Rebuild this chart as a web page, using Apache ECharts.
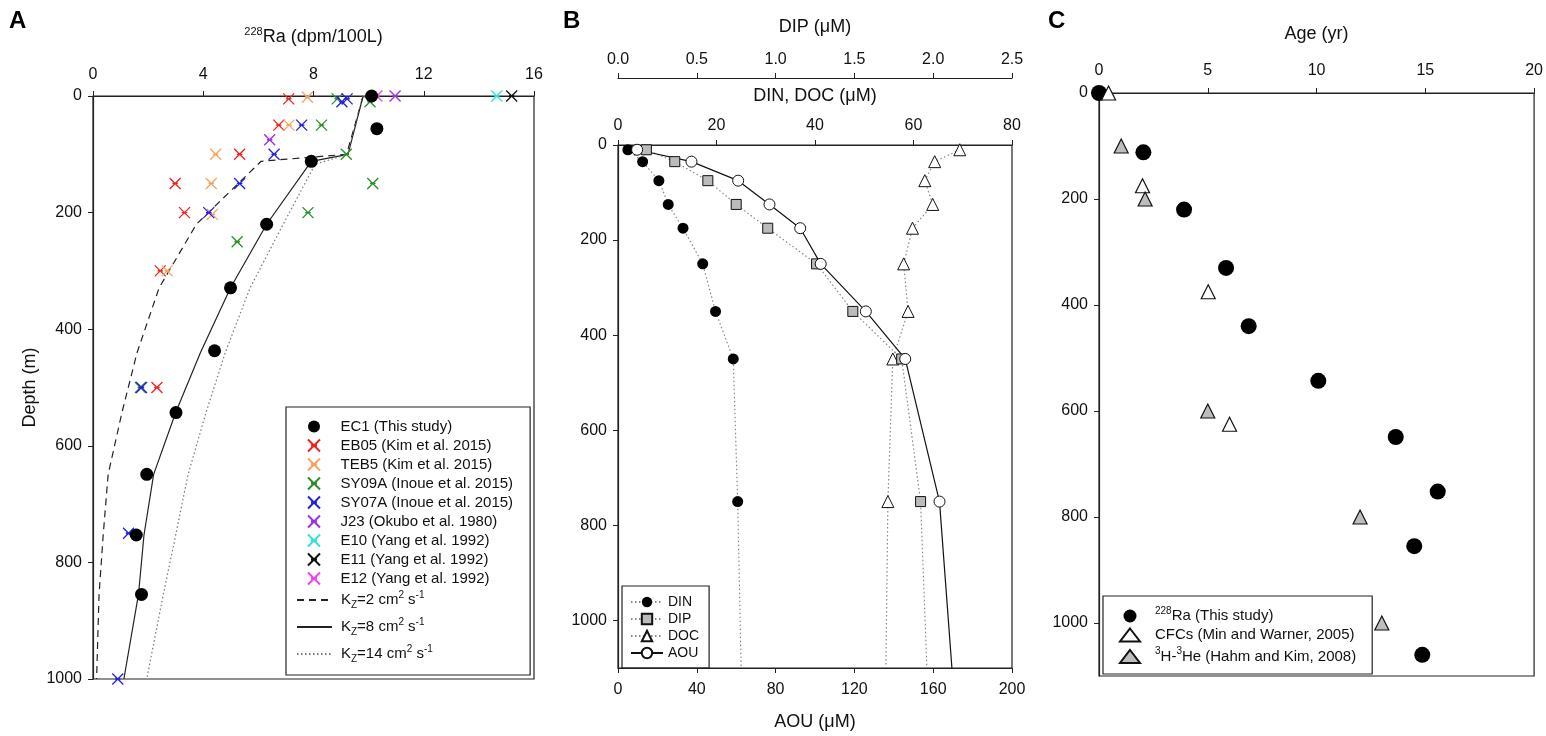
<!DOCTYPE html>
<html>
<head>
<meta charset="utf-8">
<script src="https://cdn.jsdelivr.net/npm/echarts@6/dist/echarts.min.js"></script>
<style>
  html, body { margin: 0; padding: 0; background: #fff; }
  #main { width: 1546px; height: 736px; }
</style>
</head>
<body>
<div id="main"></div>
<script>
// ---- panel A : 228Ra profiles ----
const ec1Ra = [10.11, 10.3, 7.92, 6.30, 4.99, 4.41, 3.01, 1.95, 1.57, 1.76];
const ec1Depth = [0, 56, 112, 220, 329, 437, 543, 649, 753, 855];
const eb05Ra = [7.1, 6.74, 5.32, 2.98, 3.32, 2.44, 2.32];
const eb05Depth = [5, 50, 100, 150, 200, 300, 500];
const teb5Ra = [7.78, 7.11, 4.45, 4.29, 4.33, 2.69];
const teb5Depth = [2, 50, 100, 150, 203, 300];
const sy09aRa = [8.86, 10.05, 8.29, 9.19, 10.15, 7.80, 5.23, 1.72];
const sy09aDepth = [5, 10, 50, 100, 150, 200, 250, 500];
const sy07aRa = [9.22, 9.03, 7.57, 6.57, 5.32, 4.20, 1.76, 1.29, 0.90];
const sy07aDepth = [5, 10, 50, 100, 150, 200, 500, 750, 1000];
const j23Ra = [10.96, 6.41];
const j23Depth = [0, 75];
const e10Ra = [14.65];
const e10Depth = [0];
const e11Ra = [15.19];
const e11Depth = [0];
const e12Ra = [10.3];
const e12Depth = [0];
// model curves
const kz2Ra = [9.8, 9.2, 6.1, 3.75, 2.4, 1.6, 1.05, 0.55, 0.37, 0.22, 0.13];
const kz2Depth = [0, 100, 112, 220, 329, 440, 543, 649, 753, 855, 1000];
const kz8Ra = [9.8, 9.25, 7.92, 6.30, 4.99, 3.9, 3.0, 2.2, 1.85, 1.65, 1.12];
const kz8Depth = [0, 100, 112, 220, 329, 440, 543, 649, 753, 855, 1000];
const kz14Ra = [9.8, 9.25, 8.06, 6.9, 5.7, 4.8, 4.1, 3.45, 3.0, 2.55, 1.95];
const kz14Depth = [0, 100, 117, 220, 329, 440, 543, 649, 753, 855, 1000];

// ---- panel B : nutrients ----
const depthB = [10, 35, 75, 125, 175, 250, 350, 450, 750, 1100];
const din = [2.0, 5.0, 8.3, 10.2, 13.2, 17.2, 19.8, 23.4, 24.3, 25.0];
const dip = [0.18, 0.36, 0.57, 0.75, 0.95, 1.26, 1.49, 1.80, 1.92, 1.96];
const doc = [69.4, 64.3, 62.3, 63.9, 59.8, 58.0, 58.9, 55.8, 54.8, 54.4];
const aou = [9.7, 37.3, 61.0, 76.9, 92.5, 102.9, 125.8, 145.8, 163.2, 169.5];

// ---- panel C : ages ----
const raAge = [0, 2.04, 3.91, 5.84, 6.88, 10.08, 13.64, 15.57, 14.49, 14.86];
const raAgeDepth = [0, 112, 220, 330, 440, 543, 649, 752, 855, 1060];
const cfcAge = [0.44, 2.0, 5.02, 6.0];
const cfcDepth = [0, 175, 375, 625];
const heAge = [1.02, 2.12, 5.0, 12.0, 13.0];
const heDepth = [100, 200, 600, 800, 1000];

const FONT = "'Liberation Sans', Arial, sans-serif";
const AX = '#222';
const CROSS = 'path://M0,0L10,10M10,0L0,10M2.5,5L7.5,5';

function pairs(xs, ys) {
    return xs.map(function (v, i) { return [v, ys[i]]; });
}
// last point of each nutrient profile is only the line end, no marker
function profile(xs) {
    return xs.map(function (v, i) {
        if (i === xs.length - 1) return { value: [v, depthB[i]], symbol: 'none' };
        return [v, depthB[i]];
    });
}
function cross(name, color, xs, ys) {
    return {
        name: name, type: 'scatter', xAxisIndex: 0, yAxisIndex: 0,
        symbol: CROSS, symbolSize: 11, z: 3,
        itemStyle: { color: color, borderColor: color, borderWidth: 1.3, opacity: 1 },
        data: pairs(xs, ys)
    };
}
function modelLine(name, xs, ys, type, color) {
    return {
        name: name, type: 'line', xAxisIndex: 0, yAxisIndex: 0,
        symbol: 'none', z: 2, color: color,
        lineStyle: { color: color, width: 1.2, type: type },
        data: pairs(xs, ys)
    };
}
function plain(v) { return String(v); }

const richText = {
    n: { fontSize: 15, lineHeight: 20, fontFamily: FONT, color: '#111' },
    m: { fontSize: 15, lineHeight: 15, fontFamily: FONT, color: '#111' },
    sup: { fontSize: 10, lineHeight: 10, verticalAlign: 'top', fontFamily: FONT, color: '#111' },
    sub: { fontSize: 10, lineHeight: 10, verticalAlign: 'bottom', fontFamily: FONT, color: '#111' },
    g4: { width: 4, fontSize: 10 },
    g10: { width: 10, fontSize: 10 }
};
const kzLabels = {
    'Kz=2': '{g4| }{n|K}{sub|Z}{n|=2 cm}{sup|2}{n| s}{sup|-1}',
    'Kz=8': '{g4| }{n|K}{sub|Z}{n|=8 cm}{sup|2}{n| s}{sup|-1}',
    'Kz=14': '{g4| }{n|K}{sub|Z}{n|=14 cm}{sup|2}{n| s}{sup|-1}'
};
const ageLabels = {
    'Ra': '{g10| }{sup|228}{n|Ra (This study)}',
    'CFCs': '{g10| }{n|CFCs (Min and Warner, 2005)}',
    'He': '{g10| }{sup|3}{n|H-}{sup|3}{n|He (Hahm and Kim, 2008)}'
};

function valAxis(o) {
    return Object.assign({
        type: 'value',
        splitLine: { show: false },
        axisLine: { show: true, onZero: false, lineStyle: { color: AX, width: 1.2 } },
        axisTick: { show: true, length: 5, lineStyle: { color: AX } },
        nameTextStyle: { color: '#111', fontSize: 18, fontFamily: FONT }
    }, o);
}
function lbl(margin, extra) {
    return Object.assign({ color: '#111', fontSize: 16, fontFamily: FONT, margin: margin, formatter: plain }, extra || {});
}

const chart = echarts.init(document.getElementById('main'));
const option = {
    animation: false,
    textStyle: { fontFamily: FONT },
    title: [
        { text: 'A', left: 4, top: 4, textStyle: { fontSize: 24, fontWeight: 'bold', color: '#000' } },
        { text: 'B', left: 558, top: 4, textStyle: { fontSize: 24, fontWeight: 'bold', color: '#000' } },
        { text: 'C', left: 1043, top: 4, textStyle: { fontSize: 24, fontWeight: 'bold', color: '#000' } }
    ],
    grid: [
        { left: 93, top: 96, width: 441, height: 583, show: true, borderColor: AX, borderWidth: 1.2 },
        { left: 618, top: 145, width: 394, height: 527, show: true, borderColor: AX, borderWidth: 1.2 },
        { left: 1099, top: 93, width: 438, height: 583, show: true, borderColor: AX, borderWidth: 1.2 }
    ],
    xAxis: [
        valAxis({
            gridIndex: 0, position: 'top', min: 0, max: 16, interval: 4,
            name: '{sup|228}{n|Ra (dpm/100L)}', nameLocation: 'middle', nameGap: 48,
            nameTextStyle: { rich: {
                n: { fontSize: 18, lineHeight: 22, fontFamily: FONT, color: '#111' },
                sup: { fontSize: 11, lineHeight: 11, verticalAlign: 'top', fontFamily: FONT, color: '#111' } } },
            axisLabel: lbl(13)
        }),
        valAxis({
            gridIndex: 1, position: 'top', min: 0, max: 80, interval: 20,
            name: 'DIN, DOC (\u03bcM)', nameLocation: 'middle', nameGap: 40,
            axisLabel: lbl(11)
        }),
        valAxis({
            gridIndex: 1, position: 'top', offset: 67, min: 0, max: 2.5, interval: 0.5,
            name: 'DIP (\u03bcM)', nameLocation: 'middle', nameGap: 42,
            axisLabel: lbl(10, { formatter: function (v) { return v.toFixed(1); } })
        }),
        valAxis({
            gridIndex: 1, position: 'bottom', min: 0, max: 200, interval: 40,
            name: 'AOU (\u03bcM)', nameLocation: 'middle', nameGap: 45,
            axisLabel: lbl(14)
        }),
        valAxis({
            gridIndex: 2, position: 'top', min: 0, max: 20, interval: 5,
            name: 'Age (yr)', nameLocation: 'middle', nameGap: 50,
            axisLabel: lbl(14)
        })
    ],
    yAxis: [
        valAxis({
            gridIndex: 0, inverse: true, min: 0, max: 1000, interval: 200,
            name: 'Depth (m)', nameLocation: 'middle', nameGap: 54,
            axisLabel: lbl(11)
        }),
        valAxis({
            gridIndex: 1, inverse: true, min: 0, max: 1100, interval: 200,
            axisLabel: lbl(11, { showMaxLabel: false })
        }),
        valAxis({
            gridIndex: 2, inverse: true, min: 0, max: 1100, interval: 200,
            axisLabel: lbl(11, { showMaxLabel: false })
        })
    ],
    legend: [
        {   // panel A markers, box also encloses the model-line legend below
            orient: 'vertical', left: 286, top: 407,
            padding: [12, 17, 89, 21], borderColor: AX, borderWidth: 1.2,
            itemWidth: 35, itemHeight: 12, itemGap: 4, itemTextGap: 19,
            textStyle: { fontSize: 15, lineHeight: 15, color: '#111', fontFamily: FONT, rich: richText },
            formatter: function (n) { return '{g4| }{m|' + n + '}'; },
            data: ['EC1 (This study)', 'EB05 (Kim et al. 2015)', 'TEB5 (Kim et al. 2015)',
                'SY09A (Inoue et al. 2015)', 'SY07A (Inoue et al. 2015)', 'J23 (Okubo et al. 1980)',
                'E10 (Yang et al. 1992)', 'E11 (Yang et al. 1992)', 'E12 (Yang et al. 1992)']
        },
        {
            orient: 'vertical', left: 296, top: 590, padding: 0,
            itemWidth: 35, itemHeight: 12, itemGap: 7, itemTextGap: 15,
            itemStyle: { opacity: 0, color: 'rgba(0,0,0,0)', borderWidth: 0 },
            textStyle: { rich: richText },
            formatter: function (n) { return kzLabels[n]; },
            data: ['Kz=2', 'Kz=8', 'Kz=14']
        },
        {
            orient: 'vertical', left: 622, top: 586,
            padding: [9, 10, 8, 8], borderColor: AX, borderWidth: 1.2,
            itemWidth: 32, itemHeight: 13, itemGap: 3, itemTextGap: 7,
            textStyle: { fontSize: 14, lineHeight: 14, color: '#111', fontFamily: FONT },
            data: ['DIN', 'DIP', 'DOC', 'AOU']
        },
        {
            orient: 'vertical', left: 1103, top: 596,
            padding: [10, 16, 10, 16], borderColor: AX, borderWidth: 1.2,
            itemWidth: 20, itemHeight: 13, itemGap: 4, itemTextGap: 16,
            textStyle: { rich: richText },
            formatter: function (n) { return ageLabels[n]; },
            data: ['Ra', 'CFCs', 'He']
        }
    ],
    series: [
        modelLine('Kz=2', kz2Ra, kz2Depth, [7, 5], '#222'),
        modelLine('Kz=8', kz8Ra, kz8Depth, 'solid', '#222'),
        modelLine('Kz=14', kz14Ra, kz14Depth, [1.5, 2.5], '#777'),
        cross('EB05 (Kim et al. 2015)', '#EE2222', eb05Ra, eb05Depth),
        cross('TEB5 (Kim et al. 2015)', '#F4A460', teb5Ra, teb5Depth),
        cross('SY09A (Inoue et al. 2015)', '#2A8F2A', sy09aRa, sy09aDepth),
        cross('SY07A (Inoue et al. 2015)', '#2222DD', sy07aRa, sy07aDepth),
        cross('J23 (Okubo et al. 1980)', '#9933E6', j23Ra, j23Depth),
        cross('E10 (Yang et al. 1992)', '#33E0E0', e10Ra, e10Depth),
        cross('E11 (Yang et al. 1992)', '#111111', e11Ra, e11Depth),
        {
            name: 'EC1 (This study)', type: 'scatter', xAxisIndex: 0, yAxisIndex: 0,
            symbol: 'circle', symbolSize: 13, z: 4,
            itemStyle: { color: '#000', opacity: 1 },
            data: pairs(ec1Ra, ec1Depth)
        },
        cross('E12 (Yang et al. 1992)', '#EE44EE', e12Ra, e12Depth),

        // panel B
        {
            name: 'DOC', type: 'line', xAxisIndex: 1, yAxisIndex: 1,
            symbol: 'triangle', symbolSize: 12, color: '#fff',
            itemStyle: { color: '#fff', borderColor: '#111', borderWidth: 1 },
            lineStyle: { color: '#888', width: 1.2, type: [1.5, 2.5] },
            data: profile(doc)
        },
        {
            name: 'DIP', type: 'line', xAxisIndex: 2, yAxisIndex: 1,
            symbol: 'rect', symbolSize: 10, color: '#BBBBBB',
            itemStyle: { color: '#BBBBBB', borderColor: '#111', borderWidth: 1 },
            lineStyle: { color: '#888', width: 1.2, type: [1.5, 2.5] },
            data: profile(dip)
        },
        {
            name: 'DIN', type: 'line', xAxisIndex: 1, yAxisIndex: 1,
            symbol: 'circle', symbolSize: 11, color: '#000',
            itemStyle: { color: '#000' },
            lineStyle: { color: '#888', width: 1.2, type: [1.5, 2.5] },
            data: profile(din)
        },
        {
            name: 'AOU', type: 'line', xAxisIndex: 3, yAxisIndex: 1,
            symbol: 'circle', symbolSize: 11, color: '#fff',
            itemStyle: { color: '#fff', borderColor: '#111', borderWidth: 1 },
            lineStyle: { color: '#111', width: 1.2 },
            data: profile(aou)
        },

        // panel C
        {
            name: 'Ra', type: 'scatter', xAxisIndex: 4, yAxisIndex: 2,
            symbol: 'circle', symbolSize: 16,
            itemStyle: { color: '#000', opacity: 1 },
            data: pairs(raAge, raAgeDepth)
        },
        {
            name: 'CFCs', type: 'scatter', xAxisIndex: 4, yAxisIndex: 2,
            symbol: 'triangle', symbolSize: 14,
            itemStyle: { color: '#fff', borderColor: '#111', borderWidth: 1.2, opacity: 1 },
            data: pairs(cfcAge, cfcDepth)
        },
        {
            name: 'He', type: 'scatter', xAxisIndex: 4, yAxisIndex: 2,
            symbol: 'triangle', symbolSize: 14,
            itemStyle: { color: '#BDBDBD', borderColor: '#111', borderWidth: 1.2, opacity: 1 },
            data: pairs(heAge, heDepth)
        }
    ]
};
chart.setOption(option);
window.addEventListener('resize', function () { chart.resize(); });
</script>
</body>
</html>
